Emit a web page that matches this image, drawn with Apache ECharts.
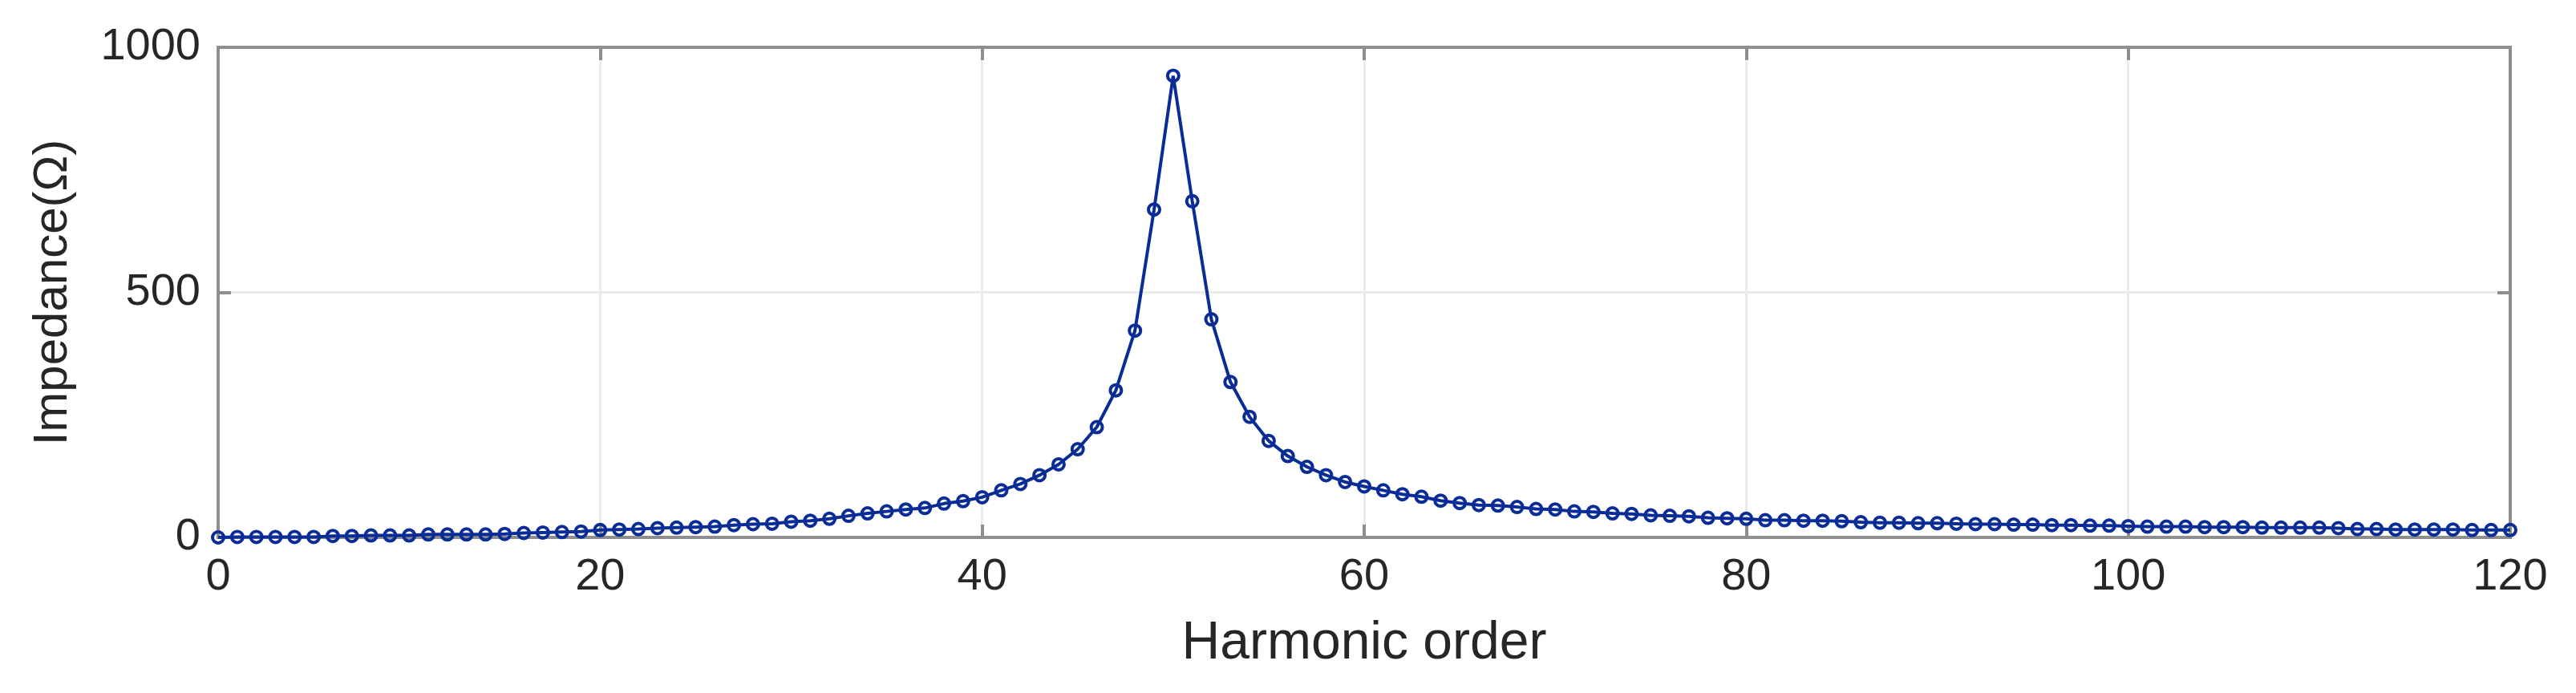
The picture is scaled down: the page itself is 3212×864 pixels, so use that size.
<!DOCTYPE html>
<html>
<head>
<meta charset="utf-8">
<script src="https://cdn.jsdelivr.net/npm/echarts@6/dist/echarts.min.js"></script>
<style>
  html, body { margin: 0; padding: 0; background: #fff; }
  #chart { width: 3212px; height: 864px; }
</style>
</head>
<body>
<div id="chart"></div>
<script>
// harmonic orders
var orders = [0,1,2,3,4,5,6,7,8,9,10,11,12,13,14,15,16,17,18,19,20,
    21,22,23,24,25,26,27,28,29,30,31,32,33,34,35,36,37,38,39,40,
    41,42,43,44,45,46,47,48,49,50,51,52,53,54,55,56,57,58,59,60,
    61,62,63,64,65,66,67,68,69,70,71,72,73,74,75,76,77,78,79,80,
    81,82,83,84,85,86,87,88,89,90,91,92,93,94,95,96,97,98,99,100,
    101,102,103,104,105,106,107,108,109,110,111,112,113,114,115,116,117,118,119,120];
// impedance (ohm)
var impedance = [0,1,1,1,1,1,3,3,4,4,4,6,6,6,6,7,9,10,11,12,15,
    16,17,19,20,21,22,25,27,28,32,34,38,44,49,53,57,60,69,74,82,
    96,109,127,149,180,225,300,422,669,942,686,445,317,246,197,166,144,127,113,104,
    96,88,83,75,70,66,65,62,58,57,53,52,49,48,45,44,43,40,39,38,
    35,35,34,34,33,31,30,30,29,29,28,27,27,26,26,25,25,24,24,23,
    22,22,22,21,21,21,20,20,20,20,19,17,17,16,16,16,16,15,15,15];
var xTicks = [0, 120, 20];
var yTicks = [0, 1000, 500];

var chart = echarts.init(document.getElementById('chart'));
var seriesData = orders.map(function (h, i) {
    return [h, impedance[i]];
});
var fontFamily = 'Liberation Sans, Arial, sans-serif';
var boxColor = '#8e8e8e';

function tick() {
    return {show: true, inside: true, length: 16, lineStyle: {color: boxColor, width: 4}};
}
function line() {
    return {show: true, onZero: false, lineStyle: {color: boxColor, width: 4}};
}

var option = {
    animation: false,
    backgroundColor: '#fff',
    grid: {
        left: 272, right: 82, top: 59, bottom: 194,
        show: true,
        borderColor: boxColor,
        borderWidth: 4
    },
    xAxis: [{
        type: 'value',
        min: xTicks[0], max: xTicks[1], interval: xTicks[2],
        name: 'Harmonic order',
        nameLocation: 'middle',
        nameGap: 100,
        nameTextStyle: {fontFamily: fontFamily, fontSize: 66, color: '#262626'},
        axisLine: line(),
        axisTick: tick(),
        axisLabel: {fontFamily: fontFamily, fontSize: 56, color: '#262626', margin: 22},
        splitLine: {show: true, lineStyle: {color: '#ebebeb', width: 3}}
    }, {
        type: 'value',
        position: 'top',
        min: xTicks[0], max: xTicks[1], interval: xTicks[2],
        axisLine: line(),
        axisTick: tick(),
        axisLabel: {show: false},
        splitLine: {show: false}
    }],
    yAxis: [{
        type: 'value',
        min: yTicks[0], max: yTicks[1], interval: yTicks[2],
        name: 'Impedance(Ω)',
        nameLocation: 'middle',
        nameGap: 176,
        nameTextStyle: {fontFamily: fontFamily, fontSize: 60, color: '#262626'},
        axisLine: line(),
        axisTick: tick(),
        axisLabel: {
            fontFamily: fontFamily, fontSize: 56, color: '#262626', margin: 22,
            formatter: function (v) { return String(v); }
        },
        splitLine: {show: true, lineStyle: {color: '#ebebeb', width: 3}}
    }, {
        type: 'value',
        position: 'right',
        min: yTicks[0], max: yTicks[1], interval: yTicks[2],
        axisLine: line(),
        axisTick: tick(),
        axisLabel: {show: false},
        splitLine: {show: false}
    }],
    series: [{
        name: 'Impedance',
        type: 'line',
        data: seriesData,
        showAllSymbol: true,
        symbol: 'circle',
        symbolSize: 14,
        lineStyle: {color: '#0a2c96', width: 4},
        itemStyle: {color: 'rgba(255,255,255,0)', borderColor: '#0a2c96', borderWidth: 4},
        z: 5
    }]
};
chart.setOption(option);
</script>
</body>
</html>
